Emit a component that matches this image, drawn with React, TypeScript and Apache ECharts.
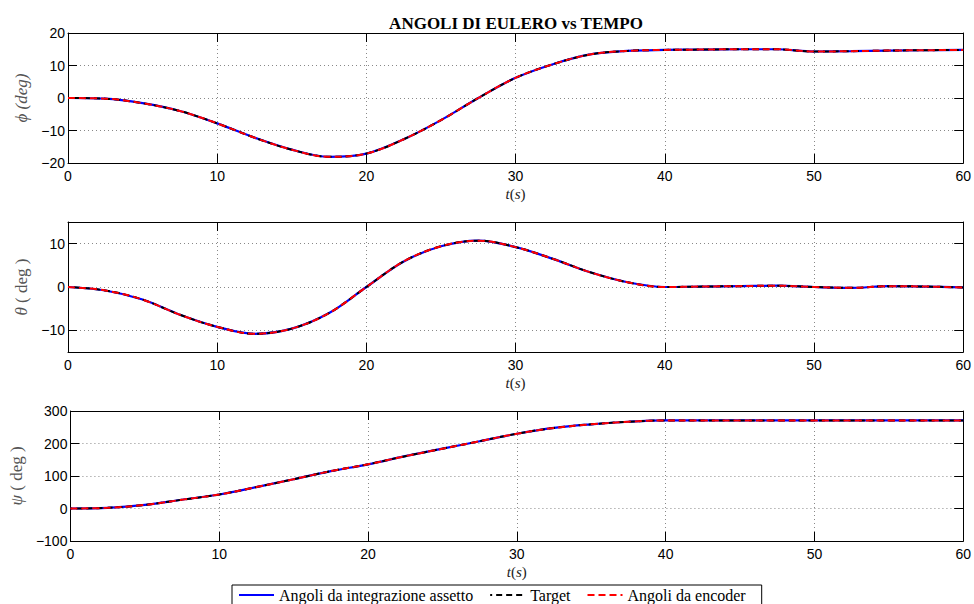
import React, { useEffect, useRef } from "react";
import * as echarts from "echarts";

const TIME = [0, 2.5, 5, 7.5, 10, 12.5, 15, 17.5, 20, 22.5, 25, 27.5, 30, 32.5, 35, 37.5, 40, 42.5, 45, 47.5, 50, 52.5, 55, 57.5, 60];
const PHI = [0, -0.2, -1.6, -4.0, -7.8, -12.2, -15.9, -18.1, -17.1, -12.7, -6.8, 0, 6.2, 10.4, 13.4, 14.5, 14.8, 14.9, 15.0, 15.0, 14.3, 14.4, 14.6, 14.7, 14.8];
const THETA = [0, -0.8, -2.9, -6.4, -9.2, -10.8, -9.6, -6.0, 0, 5.9, 9.4, 10.7, 9.2, 6.5, 3.4, 1.1, 0, 0.1, 0.2, 0.3, 0, -0.2, 0.2, 0.1, -0.1];
const PSI = [0, 2, 11, 27, 43, 66, 90, 115, 136, 161, 184, 207, 230, 248, 259, 267, 271, 271, 271, 271, 271, 271, 271, 271, 271];

const SERIES_NAMES = ["Angoli da integrazione assetto", "Target", "Angoli da encoder"];
const TITLE = "ANGOLI DI EULERO vs TEMPO";
const Y_NAMES = ["{i|ϕ} {i|(deg)}", "{i|θ} ( deg )", "{i|ψ} ( deg )"];
const Y_RANGES = [
  { min: -20, max: 20 },
  { min: -15, max: 15 },
  { min: -100, max: 300 },
];
const Y_TICKS = [
  [-20, -10, 0, 10, 20],
  [-10, 0, 10],
  [-100, 0, 100, 200, 300],
];

const pairs = (vals: number[]) => TIME.map((t, i) => [t, vals[i]]);

export default function App() {
  const ref = useRef<HTMLDivElement>(null);
  useEffect(() => {
    if (!ref.current) return;
    const chart = echarts.init(ref.current, undefined, { renderer: "svg" });
    const tickFont = { fontFamily: "Liberation Sans, Arial, sans-serif", fontSize: 14, color: "#000" };
    const serif = "Liberation Serif, Times New Roman, serif";
    const tops = [33, 222, 411];
    const grids = tops.map((top) => ({ left: 68, top, width: 898, height: 130 }));
    const minus = (v: number) => String(v).replace("-", "−");
    const xAxes: any[] = [];
    const yAxes: any[] = [];
    const dataSets = [PHI, THETA, PSI];
    const gridLine = { show: true, lineStyle: { color: "#888", type: [1, 3], width: 1 } };
    tops.forEach((_, g) => {
      xAxes.push({
        type: "value", gridIndex: g, position: "bottom", min: 0, max: 60, interval: 10,
        axisLine: { show: true, onZero: false, lineStyle: { color: "#000", width: 1 } },
        axisTick: { show: true, inside: true, length: 9, lineStyle: { color: "#000" } },
        axisLabel: { ...tickFont, margin: 6, formatter: minus },
        splitLine: gridLine,
        name: "{i|t}({i|s})", nameLocation: "middle", nameGap: 23,
        nameTextStyle: { fontFamily: serif, fontSize: 15, color: "#222", rich: { i: { fontFamily: serif, fontSize: 15, fontStyle: "italic", color: "#222" } } },
      });
      xAxes.push({
        type: "value", gridIndex: g, position: "top", min: 0, max: 60, interval: 10,
        axisLine: { show: true, onZero: false, lineStyle: { color: "#000", width: 1 } },
        axisTick: { show: true, inside: true, length: 9, lineStyle: { color: "#000" } },
        axisLabel: { show: false }, splitLine: { show: false },
      });
      yAxes.push({
        type: "value", gridIndex: g, position: "left", ...Y_RANGES[g],
        axisLine: { show: true, onZero: false, lineStyle: { color: "#000", width: 1 } },
        axisTick: { show: true, inside: true, length: 9, lineStyle: { color: "#000" }, customValues: Y_TICKS[g] },
        axisLabel: { ...tickFont, margin: 3, formatter: minus, customValues: Y_TICKS[g] },
        splitLine: gridLine,
        name: Y_NAMES[g], nameLocation: "middle", nameGap: 36, nameRotate: 90,
        nameTextStyle: { fontFamily: serif, fontSize: 17, color: "#555", rich: { i: { fontFamily: serif, fontSize: 17, fontStyle: "italic", color: "#555" } } },
      });
      yAxes.push({
        type: "value", gridIndex: g, position: "right", ...Y_RANGES[g],
        axisLine: { show: true, onZero: false, lineStyle: { color: "#000", width: 1 } },
        axisTick: { show: true, inside: true, length: 9, lineStyle: { color: "#000" }, customValues: Y_TICKS[g] },
        axisLabel: { show: false, customValues: Y_TICKS[g] }, splitLine: { show: false },
      });
    });
    const series: any[] = [];
    dataSets.forEach((vals, g) => {
      const common = { type: "line", xAxisIndex: g * 2, yAxisIndex: g * 2, showSymbol: false, symbol: "none", smooth: 0.35, data: pairs(vals), silent: true };
      series.push({ ...common, name: SERIES_NAMES[0], color: "#0000ff", lineStyle: { color: "#0000ff", width: 2.2, type: "solid" } });
      series.push({ ...common, name: SERIES_NAMES[1], color: "#000", lineStyle: { color: "#000", width: 2, type: [6, 4], dashOffset: 4 } });
      series.push({ ...common, name: SERIES_NAMES[2], color: "#ff0000", lineStyle: { color: "#ff0000", width: 2, type: [7, 4] } });
    });
    chart.setOption({
      animation: false,
      backgroundColor: "#fff",
      title: {
        text: TITLE, left: 511, top: 10, textAlign: "center",
        textStyle: { fontFamily: serif, fontWeight: "bold", fontSize: 17, color: "#000" },
      },
      legend: {
        data: SERIES_NAMES, left: 232, top: 585, orient: "horizontal",
        itemWidth: 35, itemHeight: 12, itemGap: 16,
        itemStyle: { opacity: 0 },
        borderColor: "#000", borderWidth: 1, padding: [2, 16, 8, 6],
        textStyle: { fontFamily: serif, fontSize: 16, color: "#000" },
      },
      grid: grids,
      xAxis: xAxes,
      yAxis: yAxes,
      series,
    });
    return () => chart.dispose();
  }, []);
  return <div ref={ref} style={{ position: "fixed", left: 0, top: 0, width: 974, height: 604 }} />;
}
